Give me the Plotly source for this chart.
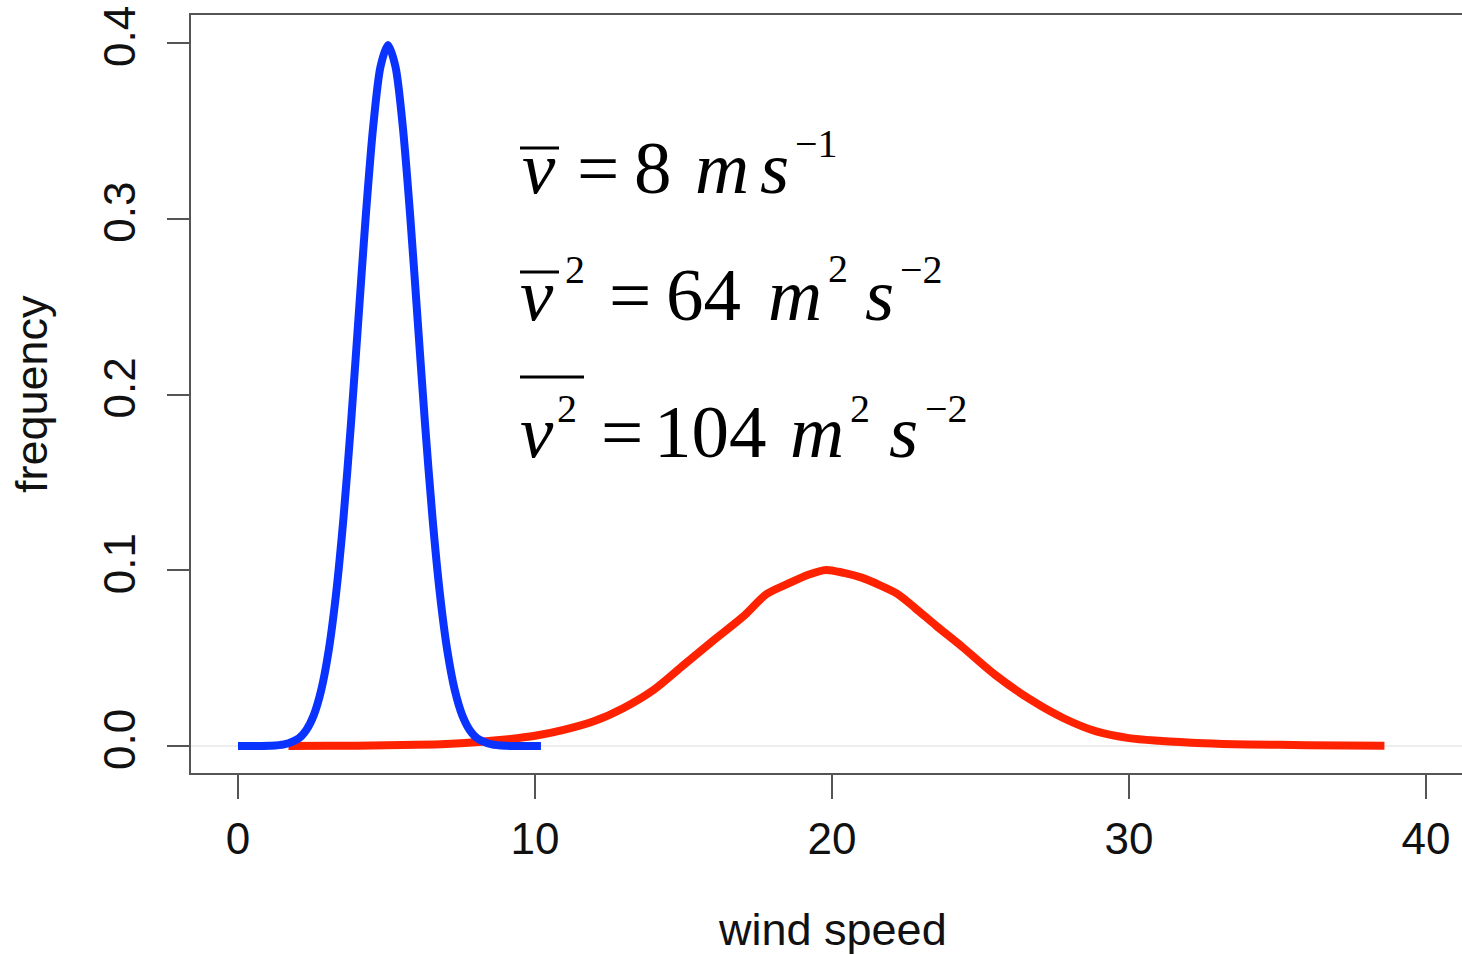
import plotly.graph_objects as go

# ---------------- data ----------------
blue_x = [0, 0.5, 1.05, 1.55, 2.05, 2.3, 2.55, 2.8, 3.05, 3.3, 3.55, 3.8, 4.05, 4.3, 4.55, 4.8,
          5.05, 5.3, 5.55, 5.8, 6.05, 6.3, 6.55, 6.8, 7.05, 7.3, 7.55, 7.8, 8.05, 8.55, 9.05, 9.55, 10.2]
blue_y = [0.0, 0.0, 0.0001, 0.0009, 0.0044, 0.0091, 0.0175, 0.0317, 0.054, 0.0863, 0.1295, 0.1826,
          0.242, 0.3011, 0.3521, 0.3867, 0.3989, 0.3867, 0.3521, 0.3011, 0.242, 0.1826, 0.1295,
          0.0863, 0.054, 0.0317, 0.0175, 0.0091, 0.0044, 0.0009, 0.0001, 0.0, 0.0]

red_x = [1.7, 3, 4, 5, 6, 7, 8, 9, 10, 11, 12, 13, 14, 15, 16, 17, 17.8, 18.5, 19.2,
         19.8, 20.4, 21.0, 21.6, 22.2, 22.8, 23.5, 24.4, 25.5, 26.7, 27.8, 28.9, 30.0, 31.0, 32.5,
         34, 36, 38.6]
red_y = [0.0, 0.0001, 0.0002, 0.0004, 0.0007, 0.0012, 0.0022, 0.0037, 0.0058, 0.0093, 0.0142,
         0.0218, 0.032, 0.046, 0.06, 0.0735, 0.0865, 0.0922, 0.0975, 0.1002, 0.0985, 0.0958,
         0.0916, 0.0866, 0.0785, 0.0685, 0.0562, 0.0404, 0.0262, 0.0158, 0.0083, 0.0045, 0.003,
         0.0016, 0.0009, 0.0005, 0.0002]

x_ticks = [0, 10, 20, 30, 40]
x_tick_labels = ["0", "10", "20", "30", "40"]
y_ticks = [0.0, 0.1, 0.2, 0.3, 0.4]
y_tick_labels = ["0.0", "0.1", "0.2", "0.3", "0.4"]

x_title = "wind speed"
y_title = "frequency"

# ---------------- layout geometry ----------------
W, H = 1462, 954
L, R, T, B = 191, 0, 15, 181
PX0, PX1 = L, W - R
PY0, PY1 = T, H - B


def px(xp):
    return (xp - PX0) / (PX1 - PX0)


def py(yp):
    return (PY1 - yp) / (PY1 - PY0)


fig = go.Figure()
fig.add_trace(go.Scatter(x=red_x, y=red_y, mode="lines",
                         line=dict(color="#ff2200", width=8, shape="spline", smoothing=0.8),
                         hoverinfo="skip"))
fig.add_trace(go.Scatter(x=blue_x, y=blue_y, mode="lines",
                         line=dict(color="#0a33ff", width=8, shape="spline", smoothing=0.8),
                         hoverinfo="skip"))

AX = "#555555"
TICKFONT = dict(family="Liberation Sans, Arial, sans-serif", size=44, color="#111111")

fig.update_layout(
    width=W, height=H,
    margin=dict(l=L, r=R, t=T, b=B, pad=0),
    paper_bgcolor="white", plot_bgcolor="white",
    showlegend=False,
    xaxis=dict(range=[-1.5825, 41.212], tickvals=x_ticks, ticktext=x_tick_labels,
               showgrid=False, zeroline=False, showline=True, linecolor=AX, linewidth=2,
               mirror=True, ticks="outside", ticklen=24, tickwidth=2, tickcolor=AX,
               tickfont=TICKFONT, ticklabelstandoff=2),
    yaxis=dict(range=[-0.01536, 0.41593], tickvals=y_ticks, ticktext=y_tick_labels,
               showgrid=False, zeroline=True, zerolinecolor="#eeeeee", zerolinewidth=2,
               showline=True, linecolor=AX, linewidth=2, mirror=False,
               ticks="outside", ticklen=22, tickwidth=2, tickcolor=AX,
               tickfont=TICKFONT, tickangle=-90, ticklabelstandoff=14),
)

annots = []
# axis titles
annots.append(dict(text=x_title, xref="x", yref="paper", x=20, y=py(929),
                   xanchor="center", yanchor="middle", showarrow=False,
                   font=dict(family="Liberation Sans, Arial, sans-serif", size=45, color="#111111")))
annots.append(dict(text=y_title, xref="paper", yref="paper", x=px(31), y=py(394),
                   xanchor="center", yanchor="middle", showarrow=False, textangle=-90,
                   font=dict(family="Liberation Sans, Arial, sans-serif", size=45, color="#111111")))

SERIF = "Liberation Serif, Times New Roman, serif"
BIG = 75
SMALL = 40


def tok(text, left, right, baseline, size, italic=False):
    t = f"<i>{text}</i>" if italic else text
    cy = baseline - 0.3375 * size
    annots.append(dict(text=t, xref="paper", yref="paper", x=px((left + right) / 2), y=py(cy),
                       xanchor="center", yanchor="middle", showarrow=False,
                       font=dict(family=SERIF, size=size, color="black")))


# line 1
tok("v", 520, 558, 193, BIG, True)
tok("=", 580, 615, 193, BIG)
tok("8", 637, 668, 193, BIG)
tok("m", 695, 748, 193, BIG, True)
tok("s", 763, 786, 193, BIG, True)
tok("\u22121", 797, 835, 157, SMALL)
# line 2
tok("v", 520, 553, 320, BIG, True)
tok("2", 565, 585, 283, SMALL)
tok("=", 612, 648, 320, BIG)
tok("64", 667, 740, 320, BIG)
tok("m", 767, 822, 320, BIG, True)
tok("2", 828, 848, 282, SMALL)
tok("s", 868, 890, 320, BIG, True)
tok("\u22122", 900, 943, 283, SMALL)
# line 3
tok("v", 520, 553, 457, BIG, True)
tok("2", 555, 578, 422, SMALL)
tok("=", 603, 640, 457, BIG)
tok("104", 657, 763, 457, BIG)
tok("m", 790, 843, 457, BIG, True)
tok("2", 850, 870, 422, SMALL)
tok("s", 892, 915, 457, BIG, True)
tok("\u22122", 925, 967, 422, SMALL)

fig.update_layout(annotations=annots)

# overbars
bars = [(520, 559, 148), (520, 559, 272), (520, 584, 377)]
for x0, x1, yb in bars:
    fig.add_shape(type="line", xref="paper", yref="paper", x0=px(x0), x1=px(x1), y0=py(yb), y1=py(yb),
                  line=dict(color="black", width=3))

fig.write_html("out.html")
